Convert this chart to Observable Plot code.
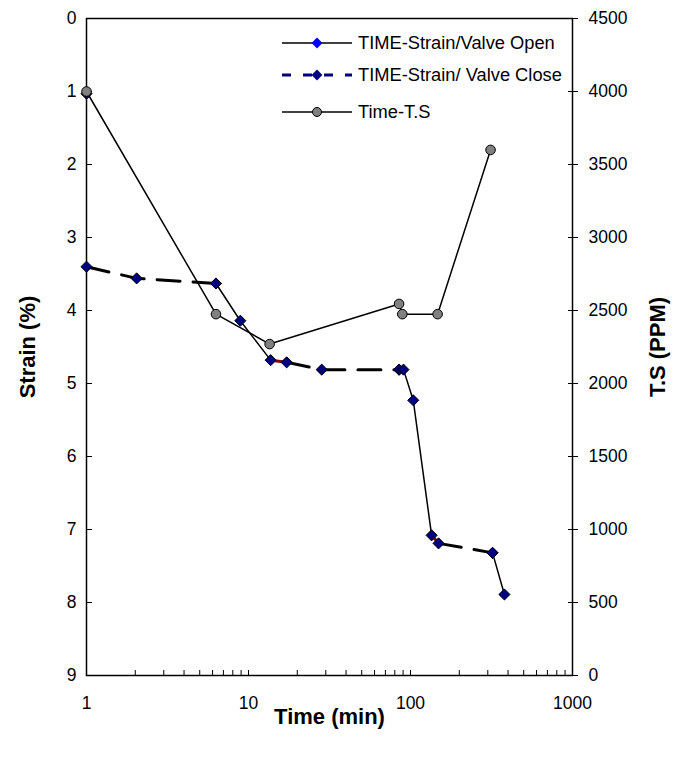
<!DOCTYPE html>
<html>
<head>
<meta charset="utf-8">
<script src="https://cdn.jsdelivr.net/npm/d3@7"></script>
<script src="https://cdn.jsdelivr.net/npm/@observablehq/plot@0.6"></script>
<style>
  body { margin: 0; background: #fff; }
  #chart { width: 674px; height: 760px; }
  svg { font-family: "Liberation Sans", Arial, sans-serif; }
</style>
</head>
<body>
<div id="chart"></div>
<script>
// Strain readings while the valve is open (seg = separate solid runs)
const openTime   = [1, 6.3, 8.9, 13.7, 85, 90.5, 104, 135, 321, 380];
const openStrain = [1.03, 3.63, 4.14, 4.68, 4.81, 4.81, 5.23, 7.08, 7.32, 7.89];
const openSeg    = [0, 1, 1, 1, 2, 2, 2, 2, 3, 3];

// Strain readings while the valve is closed (dashed runs)
const closeTime   = [1, 2.04, 6.3, 17.2, 28.3, 85, 149, 321];
const closeStrain = [3.40, 3.56, 3.63, 4.71, 4.81, 4.81, 7.19, 7.32];
const closeSeg    = [0, 0, 0, 1, 1, 1, 2, 2];

// Short joins where open and closed runs meet
const joinFromTime   = [13.7, 135];
const joinFromStrain = [4.68, 7.08];
const joinToTime     = [17.2, 149];
const joinToStrain   = [4.71, 7.19];

// Total solids (PPM) over time
const tsTime  = [1, 6.3, 13.5, 85, 89, 147, 312];
const tsValue = [4000, 2475, 2270, 2545, 2475, 2475, 3600];

// Axis ticks
const timeTicks   = [1, 10, 100, 1000];
const timeMinor   = [2, 3, 4, 5, 6, 7, 8, 9, 10, 20, 30, 40, 50, 60, 70, 80, 90, 100, 200, 300, 400, 500, 600, 700, 800, 900];
const strainTicks = [0, 1, 2, 3, 4, 5, 6, 7, 8, 9];
const tsTicks     = [0, 500, 1000, 1500, 2000, 2500, 3000, 3500, 4000, 4500];

const legendLabels = ["TIME-Strain/Valve Open", "TIME-Strain/ Valve Close", "Time-T.S"];

// T.S shares the strain axis: 0 PPM at the bottom (strain 9), 4500 at the top (strain 0)
const tsToStrain = d3.scaleLinear().domain([0, 4500]).range([9, 0]);

const open  = openTime.map((t, i) => ({t, s: openStrain[i], seg: openSeg[i]}));
const close = closeTime.map((t, i) => ({t, s: closeStrain[i], seg: closeSeg[i]}));
const joins = joinFromTime.map((t, i) => ({t1: t, s1: joinFromStrain[i], t2: joinToTime[i], s2: joinToStrain[i]}));
const ts    = tsTime.map((t, i) => ({t, v: tsValue[i], s: tsToStrain(tsValue[i])}));

const none = () => "";
const navy = "#000080";
const tickFont = 17.5;
const legendFont = 18.3;
const titleFont = 22;

const chart = Plot.plot({
  width: 674,
  height: 760,
  marginLeft: 86,
  marginRight: 102,
  marginTop: 18,
  marginBottom: 85,
  style: {fontFamily: "'Liberation Sans', Arial, sans-serif", fontSize: `${tickFont}px`, color: "#000", background: "#fff", overflow: "visible"},
  x: {type: "log", domain: [1, 1000]},
  y: {domain: [0, 9], reverse: true},
  marks: [
    // bottom axis: labels, then inward minor ticks
    Plot.axisX(timeTicks, {anchor: "bottom", tickSize: 0, tickPadding: 21, tickFormat: d => String(d), fontSize: tickFont, label: null}),
    Plot.axisX(timeMinor, {anchor: "bottom", tickSize: -5, tickFormat: none, label: null}),
    // left strain axis
    Plot.axisY(strainTicks, {anchor: "left", tickSize: 0, tickPadding: 10, tickFormat: d => String(d), fontSize: tickFont, label: null}),
    Plot.axisY(strainTicks, {anchor: "left", tickSize: -6, tickFormat: none, label: null}),
    // right T.S axis with crossing ticks
    Plot.axisY(tsTicks.map(tsToStrain), {anchor: "right", tickSize: 0, tickPadding: 16, tickFormat: d => String(Math.round(tsToStrain.invert(d))), fontSize: tickFont, label: null}),
    Plot.axisY(tsTicks.map(tsToStrain), {anchor: "right", tickSize: 5, tickFormat: none, label: null}),
    Plot.axisY(tsTicks.map(tsToStrain), {anchor: "right", tickSize: -5, tickFormat: none, label: null}),
    Plot.frame({stroke: "#000", strokeWidth: 1.5}),

    // series lines
    Plot.line(close, {x: "t", y: "s", z: "seg", stroke: "#000", strokeWidth: 3, strokeDasharray: "23,13"}),
    Plot.line(open, {x: "t", y: "s", z: "seg", stroke: "#000", strokeWidth: 1.5}),
    Plot.link(joins, {x1: "t1", y1: "s1", x2: "t2", y2: "s2", stroke: "#8b0000", strokeWidth: 3}),
    Plot.line(ts, {x: "t", y: "s", stroke: "#000", strokeWidth: 1.5}),

    // markers
    Plot.dot(close, {x: "t", y: "s", symbol: "diamond2", r: 5, fill: navy, stroke: "#000", strokeWidth: 1}),
    Plot.dot(open, {x: "t", y: "s", symbol: "diamond2", r: 5, fill: navy, stroke: "#000", strokeWidth: 1}),
    Plot.dot(ts, {x: "t", y: "s", r: 4.8, fill: "#808080", stroke: "#000", strokeWidth: 1}),

    // axis titles
    Plot.text(["Strain (%)"], {text: d => d, frameAnchor: "left", dx: -59, rotate: -90, textAnchor: "middle", lineAnchor: "middle", fontSize: titleFont, fontWeight: "bold", fill: "#000"}),
    Plot.text(["T.S (PPM)"], {text: d => d, frameAnchor: "right", dx: 85, rotate: -90, textAnchor: "middle", lineAnchor: "middle", fontSize: titleFont, fontWeight: "bold", fill: "#000"}),
    Plot.text(["Time (min)"], {text: d => d, frameAnchor: "bottom", dy: 41, textAnchor: "middle", lineAnchor: "middle", fontSize: titleFont, fontWeight: "bold", fill: "#000"})
  ]
});

document.getElementById("chart").append(chart);

// legend in the upper right of the plot area
const svg = d3.select(chart);
const legend = svg.append("g")
  .attr("font-size", legendFont)
  .attr("font-family", "'Liberation Sans', Arial, sans-serif")
  .attr("text-anchor", "start");
const rowY = [43, 75, 112];
const lineX1 = 282, lineX2 = 352, markX = 317, textX = 358;

// row 1: solid line with blue diamond
legend.append("line").attr("x1", lineX1).attr("x2", lineX2).attr("y1", rowY[0]).attr("y2", rowY[0]).attr("stroke", "#000").attr("stroke-width", 1.5);
legend.append("path").attr("d", d3.symbol(d3.symbolDiamond2, 75)()).attr("transform", `translate(${markX},${rowY[0]})`).attr("fill", "#0000ff");
// row 2: dashed navy line with navy diamond
legend.append("line").attr("x1", lineX1).attr("x2", lineX2).attr("y1", rowY[1]).attr("y2", rowY[1]).attr("stroke", navy).attr("stroke-width", 3).attr("stroke-dasharray", "9,12");
legend.append("path").attr("d", d3.symbol(d3.symbolDiamond2, 75)()).attr("transform", `translate(${markX},${rowY[1]})`).attr("fill", navy);
// row 3: solid line with grey circle
legend.append("line").attr("x1", lineX1).attr("x2", lineX2).attr("y1", rowY[2]).attr("y2", rowY[2]).attr("stroke", "#000").attr("stroke-width", 1.5);
legend.append("circle").attr("cx", markX).attr("cy", rowY[2]).attr("r", 4.5).attr("fill", "#808080").attr("stroke", "#000").attr("stroke-width", 1);

legendLabels.forEach((label, i) => {
  legend.append("text").attr("x", textX).attr("y", rowY[i]).attr("dy", "0.35em").attr("fill", "#000").attr("text-anchor", "start").text(label);
});
</script>
</body>
</html>
